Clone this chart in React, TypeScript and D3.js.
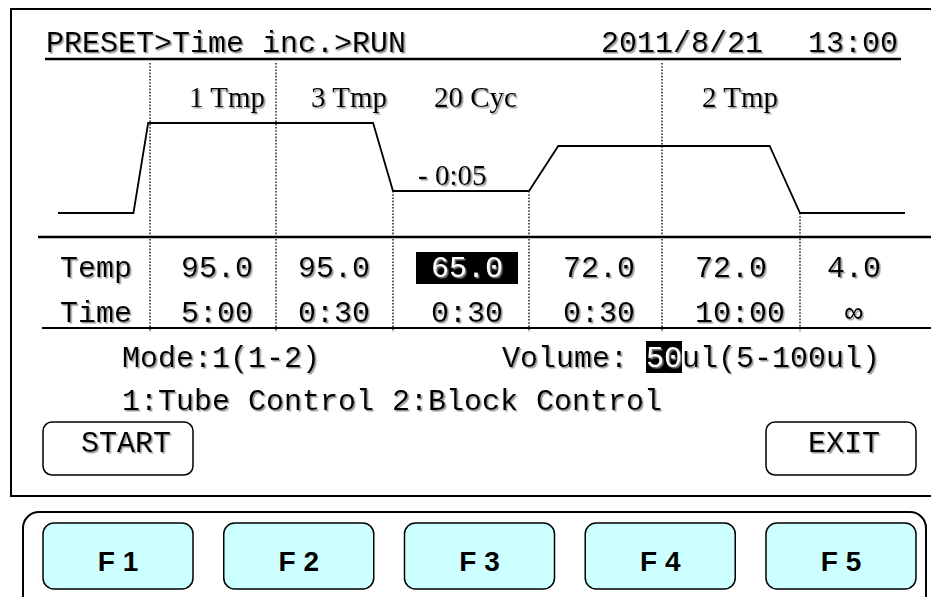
import React from 'react';
import * as d3 from 'd3';

// run steps
const stepLabels = ['1 Tmp', '3 Tmp', '20 Cyc', '', '2 Tmp', ''];
const tempLabels = ['95.0', '95.0', '65.0', '72.0', '72.0', '4.0'];
const timeLabels = ['5:00', '0:30', '0:30', '0:30', '10:00', ' ∞'];
const stepTemps = [95, 95, 65, 72, 72, 4];
const selectedStep = 2;
const incLabel = '- 0:05';
// dividers that reach up to the header line
const fullDivider = [true, true, false, false, true, false];

// schematic temperature profile: [step position, temperature]
const profile: [number, number][] = [
  [-1, 4], [-0.18, 4], [-0.02, 95], [1.83, 95], [2, 65],
  [3, 65], [3.22, 72], [4.78, 72], [5, 4], [6, 4],
];

const fKeys = ['F 1', 'F 2', 'F 3', 'F 4', 'F 5'];

const MONO = '"Liberation Mono", "Courier New", monospace';
const SERIF = '"Liberation Serif", "Times New Roman", serif';
const SANS = '"Liberation Sans", Arial, sans-serif';

export default function App() {
  const W = 931, H = 597;
  const charW = 18;

  // column edges between steps, in step units
  const x = d3.scaleLinear()
    .domain([-1, 0, 1, 2, 3, 4, 5, 6])
    .range([58, 150, 276, 393, 529, 662, 800, 905]);
  // schematic (non proportional) temperature levels
  const y = d3.scaleLinear().domain([4, 65, 72, 95]).range([213, 191, 146, 123]);
  const textX = d3.scaleLinear().domain([0, 1, 2, 3, 4, 5]).range([181, 298, 431, 563, 695, 827]);
  const labelX = d3.scaleLinear().domain([0, 1, 2, 3, 4, 5]).range([189, 311, 434, 568, 702, 836]);
  const keyX = d3.scaleBand().domain(fKeys).range([43, 916]).paddingInner(0.17).paddingOuter(0);

  const line = d3.line<[number, number]>().x(d => x(d[0])).y(d => y(d[1]));

  const txt = { fontFamily: MONO, fontSize: 30, filter: 'url(#sh)' } as any;

  return (
    <svg width={W} height={H} style={{ position: 'absolute', left: 0, top: 0, background: '#fff' }}>
      <defs>
        <filter id="sh" x="-10%" y="-20%" width="130%" height="150%">
          <feDropShadow dx="1.5" dy="1.5" stdDeviation="0.7" floodColor="#8a8a8a" floodOpacity="0.9" />
        </filter>
      </defs>

      {/* screen */}
      <rect x={11} y={9} width={940} height={487} fill="none" stroke="#000" strokeWidth={2} />

      {/* header */}
      <text x={46} y={52} {...txt}>PRESET&gt;Time inc.&gt;RUN</text>
      <text x={601} y={52} {...txt}>2011/8/21</text>
      <text x={808} y={52} {...txt}>13:00</text>
      <line x1={45} x2={901} y1={59} y2={59} stroke="#000" strokeWidth={2.5} />

      {/* dividers */}
      {fullDivider.map((full, i) => {
        const top = full ? 63 : y(Math.min(stepTemps[i - 1] ?? 4, stepTemps[i]));
        return (
          <line key={i} x1={x(i)} x2={x(i)} y1={top} y2={332}
            stroke="#000" strokeWidth={1.3} strokeDasharray="1.6,1.6" />
        );
      })}

      {/* profile */}
      <path d={line(profile) || ''} fill="none" stroke="#000" strokeWidth={1.8} />

      {stepLabels.map((l, i) => l ? (
        <text key={i} x={labelX(i)} y={107} fontFamily={SERIF} fontSize={29} filter="url(#sh)">{l}</text>
      ) : null)}
      <text x={textX(selectedStep) - 13} y={185} fontFamily={SERIF} fontSize={29} filter="url(#sh)">{incLabel}</text>

      {/* table */}
      <line x1={38} x2={931} y1={237} y2={237} stroke="#000" strokeWidth={2.5} />
      <line x1={42} x2={931} y1={328} y2={328} stroke="#000" strokeWidth={2} />
      <text x={60} y={277} {...txt}>Temp</text>
      <text x={60} y={322} {...txt}>Time</text>
      <rect x={textX(selectedStep) - 15} y={252} width={102} height={32} fill="#000" />
      {tempLabels.map((t, i) => (
        <text key={i} x={textX(i)} y={277} {...txt} fill={i === selectedStep ? '#fff' : '#000'}>{t}</text>
      ))}
      {timeLabels.map((t, i) => (
        <text key={i} x={textX(i)} y={322} {...txt} style={{ whiteSpace: 'pre' }}>{t}</text>
      ))}

      {/* settings */}
      <text x={122} y={367} {...txt}>Mode:1(1-2)</text>
      <rect x={502 + 8 * charW} y={341} width={2 * charW} height={32} fill="#000" />
      <text x={502} y={367} {...txt} style={{ whiteSpace: 'pre' }}>
        Volume: <tspan fill="#fff">50</tspan>ul(5-100ul)
      </text>
      <text x={122} y={410} {...txt}>1:Tube Control 2:Block Control</text>

      {/* soft buttons */}
      <rect x={43} y={422} width={150} height={53} rx={9} fill="none" stroke="#000" strokeWidth={1.5} />
      <text x={81} y={452} {...txt}>START</text>
      <rect x={766} y={422} width={150} height={53} rx={9} fill="none" stroke="#000" strokeWidth={1.5} />
      <text x={808} y={452} {...txt}>EXIT</text>

      {/* function keys */}
      <rect x={23} y={512} width={903} height={110} rx={16} fill="none" stroke="#000" strokeWidth={2} />
      {fKeys.map(k => (
        <g key={k}>
          <rect x={keyX(k)} y={523} width={keyX.bandwidth()} height={66} rx={11}
            fill="#ccffff" stroke="#000" strokeWidth={1.5} />
          <text x={(keyX(k) ?? 0) + keyX.bandwidth() / 2} y={571} textAnchor="middle"
            fontFamily={SANS} fontWeight="bold" fontSize={28}>{k}</text>
        </g>
      ))}
    </svg>
  );
}
